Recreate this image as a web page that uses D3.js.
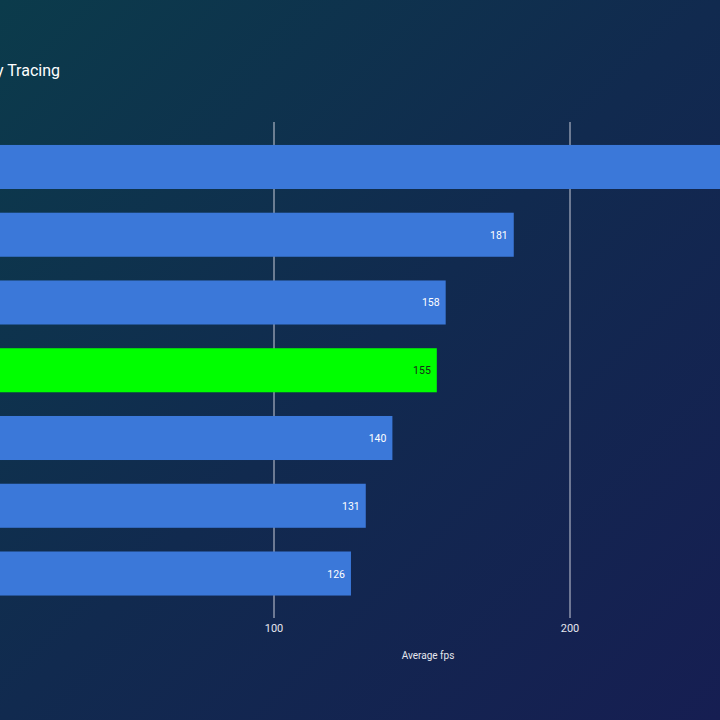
<!DOCTYPE html>
<html>
<head>
<meta charset="utf-8">
<script src="https://cdn.jsdelivr.net/npm/d3@7"></script>
<style>
  body { margin: 0; background: #10284d; }
  svg { display: block; font-family: Roboto, "Noto Sans", sans-serif; }
</style>
</head>
<body>
<script>
// values (categories are cropped out on the left)
categories = ["GPU A", "GPU B", "GPU C", "GPU D", "GPU E", "GPU F", "GPU G"];
values = [270, 181, 158, 155, 140, 131, 126];
highlight = [false, false, false, true, false, false, false];
ticks = [100, 200];

let width = 720, height = 720;

svg = d3.select("body")
  .append("svg")
  .attr("width", width)
  .attr("height", height);

let defs = svg.append("defs");
let grad = defs.append("linearGradient")
  .attr("id", "bg")
  .attr("x1", "0%").attr("y1", "0%")
  .attr("x2", "100%").attr("y2", "100%");
grad.append("stop").attr("offset", "0%").attr("stop-color", "#0b3b4b");
grad.append("stop").attr("offset", "50%").attr("stop-color", "#112a4f");
grad.append("stop").attr("offset", "100%").attr("stop-color", "#161e52");

svg.append("rect")
  .attr("width", width)
  .attr("height", height)
  .attr("fill", "url(#bg)");

// title (left part is cropped off)
svg.append("text")
  .attr("x", 60)
  .attr("y", 76)
  .attr("text-anchor", "end")
  .attr("fill", "#ffffff")
  .attr("font-size", 16)
  .text("Ray Tracing");

let xScale = d3.scaleLinear()
  .domain([0, 100])
  .range([-22, 274]);

let yScale = d3.scaleBand()
  .domain(categories)
  .range([133.1, 607.4])
  .paddingInner(0.35)
  .paddingOuter(0.175);

// grid lines
svg.selectAll("line.grid")
  .data(ticks)
  .enter()
  .append("line")
  .attr("class", "grid")
  .attr("x1", d => xScale(d))
  .attr("x2", d => xScale(d))
  .attr("y1", 122)
  .attr("y2", 618)
  .attr("stroke", "#c9ccd8")
  .attr("stroke-width", 1);

svg.selectAll("text.tick")
  .data(ticks)
  .enter()
  .append("text")
  .attr("class", "tick")
  .attr("x", d => xScale(d))
  .attr("y", 632)
  .attr("text-anchor", "middle")
  .attr("fill", "#e4e6ee")
  .attr("font-size", 11)
  .text(d => d);

svg.append("text")
  .attr("x", 428)
  .attr("y", 659)
  .attr("text-anchor", "middle")
  .attr("fill", "#e4e6ee")
  .attr("font-size", 10)
  .text("Average fps");

let rows = categories.map((c, i) => ({ name: c, value: values[i], hi: highlight[i] }));

svg.selectAll("rect.bar")
  .data(rows)
  .enter()
  .append("rect")
  .attr("class", "bar")
  .attr("x", xScale(0) - 40)
  .attr("y", d => yScale(d.name))
  .attr("width", d => xScale(d.value) - xScale(0) + 40)
  .attr("height", yScale.bandwidth())
  .attr("fill", d => d.hi ? "#00ff00" : "#3b78d9");

svg.selectAll("text.val")
  .data(rows)
  .enter()
  .append("text")
  .attr("class", "val")
  .attr("x", d => xScale(d.value) - 6)
  .attr("y", d => yScale(d.name) + yScale.bandwidth() / 2 + 4)
  .attr("text-anchor", "end")
  .attr("fill", d => d.hi ? "#1a2a1a" : "#ffffff")
  .attr("font-size", 10.5)
  .text(d => d.value);
</script>
</body>
</html>
